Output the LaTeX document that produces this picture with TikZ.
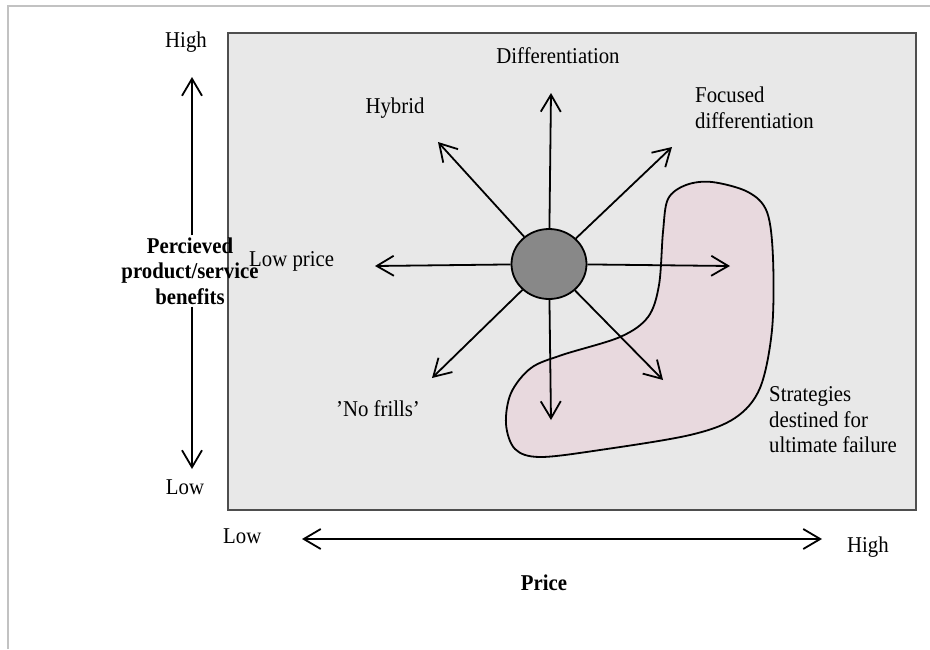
\documentclass[tikz,border=0pt]{standalone}
\usepackage{fontspec}
\setmainfont{Liberation Serif}[FakeStretch=0.92]
\usetikzlibrary{arrows.meta,shapes.geometric}

\definecolor{framegray}{RGB}{194,194,194}
\definecolor{panelfill}{RGB}{232,232,232}
\definecolor{paneledge}{RGB}{78,78,78}
\definecolor{hubfill}{RGB}{136,136,136}
\definecolor{failfill}{RGB}{232,217,222}

\begin{document}
\begin{tikzpicture}[x=1pt,y=-1pt,
  lbl/.style={font=\fontsize{22.6}{25.5}\selectfont, inner sep=0pt},
  boldlbl/.style={lbl, font=\fontsize{22.6}{25.5}\selectfont\bfseries},
  barb/.tip={Straight Barb[length=17pt,width=20pt,line width=1.8pt]},
  vee/.style={-barb, line width=1.8pt},
  twovee/.style={barb-barb, line width=1.8pt},
  hub/.style={ellipse, draw=black, line width=1.8pt, fill=hubfill,
              minimum width=75pt, minimum height=70pt, inner sep=0pt}]

\useasboundingbox (0,0) rectangle (930,649);

% outer page frame (top and left edges)
\draw[framegray, line width=2pt] (8,649) -- (8,6) -- (930,6);

% strategy clock panel
\draw[paneledge, fill=panelfill, line width=2pt] (228,33) rectangle (916,510);

% region of failing strategies
\draw[black, fill=failfill, line width=1.8pt]
  plot[smooth cycle, tension=0.55] coordinates {
    (712,182) (748,192) (767,212) (773,258) (772,330) (760,388)
    (735,418) (690,435) (600,450) (540,457) (515,449) (506,424)
    (511,393) (531,368) (562,355) (620,337) (648,317) (659,285)
    (663,232) (668,199) (686,185)};

% centre of the clock
\node[hub] (c) at (549,264) {};

% directions of the strategy clock
\coordinate (tN)  at (551,93);
\coordinate (tS)  at (551,420);
\coordinate (tE)  at (730,266);
\coordinate (tW)  at (375,266);
\coordinate (tNW) at (438,142);
\coordinate (tNE) at (672,147);
\coordinate (tSE) at (663,380);
\coordinate (tSW) at (432,378);

\foreach \t in {tN,tS,tE,tW,tNW,tNE,tSE,tSW}
  \draw[vee] (c) -- (\t);

% axis labels
\node[lbl, anchor=base] (yhigh) at (186,47) {High};
\node[lbl, anchor=base] (ylow) at (185,494) {Low};
\node[boldlbl, align=center, inner sep=2pt] (ytitle) at (190,271) {Percieved\\product/service\\benefits};
\node[lbl, anchor=base west] (xlow) at (223,543) {Low};
\node[lbl, anchor=base west] (xhigh) at (847,552) {High};
\node[boldlbl, anchor=base] (xtitle) at (544,590) {Price};

% axes (the vertical one is interrupted by its title)
\coordinate (yTop) at (192,77);
\coordinate (yBot) at (192,469);
\coordinate (xLeft) at (302,539);
\coordinate (xRight) at (822,539);
\draw[vee] (ytitle.north -| yTop) -- (yTop);
\draw[vee] (ytitle.south -| yBot) -- (yBot);
\draw[twovee] (xLeft) -- (xRight);

% strategy labels
\node[lbl, anchor=base] (ldiff) at (558,63) {Differentiation};
\node[lbl, anchor=base] (lhyb) at (395,113) {Hybrid};
\node[lbl, anchor=west, align=left] (lfoc) at (695,108) {Focused\\differentiation};
\node[lbl, anchor=base west] (llow) at (249,266) {Low price};
\node[lbl, anchor=base] (lnof) at (378,416) {’No frills’};
\node[lbl, anchor=west, align=left] (lfail) at (769,420) {Strategies\\destined for\\ultimate failure};

\end{tikzpicture}
\end{document}
